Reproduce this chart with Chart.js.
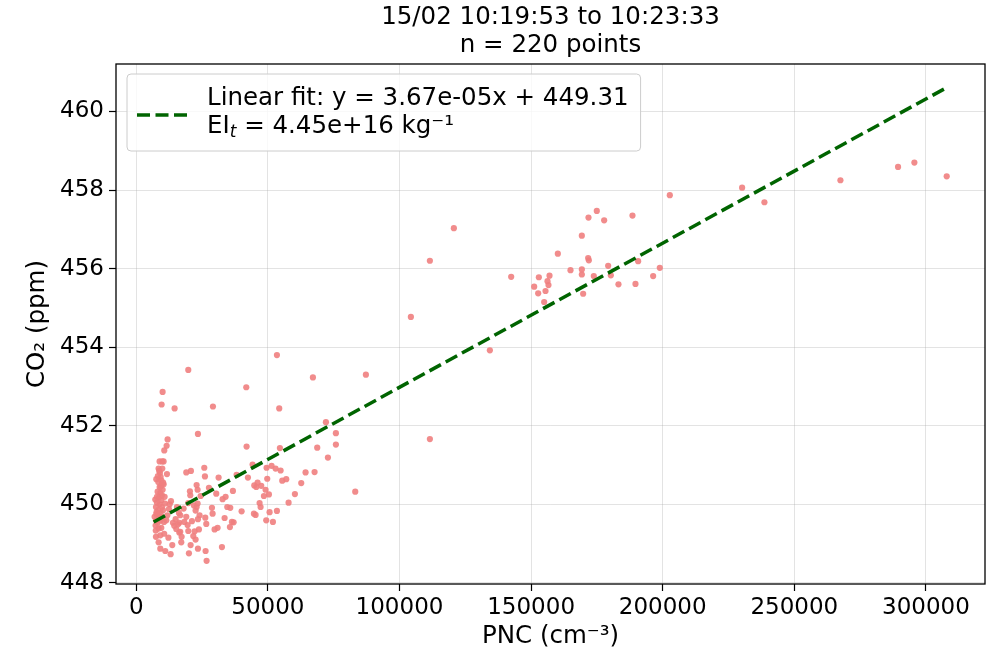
<!DOCTYPE html>
<html>
<head>
<meta charset="utf-8">
<script src="https://cdn.jsdelivr.net/npm/chart.js@4.4.1/dist/chart.umd.min.js"></script>
<style>
    html, body { margin: 0; padding: 0; background: #fff; }
    #wrap { width: 1000px; height: 651px; }
</style>
</head>
<body>
<div id="wrap"><canvas id="chartCo2" width="1000" height="651"></canvas></div>
<script>
// PNC (cm-3) vs CO2 (ppm)

// isolated points above the main cloud
const topPnc = [53430, 19750, 10000, 9620, 14560, 29120, 41780, 54310, 67100, 87230,
    23420, 41900, 54560, 72040, 75830, 75830, 68740, 72800, 83180];
const topCo2 = [453.80, 453.42, 452.86, 452.54, 452.44, 452.49, 452.98, 452.44, 453.23, 453.30,
    451.79, 451.47, 451.43, 452.09, 451.81, 451.52, 451.44, 451.19, 450.32];

// dense column near the background level
const columnPnc = [11900, 11520, 10630, 9870, 8860, 10380, 8480, 9870, 11650, 7600,
    9500, 9620, 8860, 10000, 9120, 9750, 8610, 9500, 7850, 8860,
    7470, 9750, 8360, 9240, 7600, 8610, 7470, 8100, 7340, 9120,
    10510, 11390, 7470, 9120, 8480, 9120, 11010, 13040, 13670, 8100,
    10380, 8360, 8990, 7220, 10130, 6960, 8480, 9750, 7850, 10760,
    9240, 9300, 8200, 10900, 7700, 9500, 8900, 11800, 10200, 12400,
    7400, 8700, 10600, 12200];
const columnCo2 = [451.65, 451.49, 451.37, 451.09, 451.09, 451.09, 450.91, 450.91, 450.77, 450.64,
    450.61, 450.50, 450.44, 450.37, 450.29, 450.23, 450.17, 450.10, 450.04, 450.00,
    449.93, 449.93, 449.85, 449.79, 449.75, 449.70, 449.59, 449.53, 449.46, 449.58,
    449.55, 449.59, 449.17, 449.21, 449.03, 448.87, 448.81, 448.73, 448.96, 450.32,
    450.51, 450.57, 450.80, 450.12, 449.85, 449.68, 449.38, 449.68, 450.19, 450.19,
    450.70, 450.45, 450.72, 450.02, 449.80, 449.40, 449.65, 449.72, 450.55, 449.88,
    449.33, 450.85, 449.25, 449.15];

// lower cloud, 13k - 68k
const cloudPnc = [13170, 12660, 16200, 14940, 13930, 16330, 14430, 15830, 15190, 16330,
    16710, 17220, 17090, 18230, 19750, 21140, 22160, 21650, 22530, 23800,
    23420, 24050, 20640, 20000, 23420, 26330, 26710, 26210, 26590, 29750,
    30890, 32540, 19750, 21900, 22530, 23290, 22920, 20380, 20510, 24430,
    22920, 23290, 20760, 18990, 25830, 26080, 27600, 28740, 28990, 30380,
    31270, 32790, 33930, 33550, 34560, 35700, 36330, 36970, 35570, 36710,
    38110, 42410, 40010, 44180, 44820, 45580, 46080, 47480, 46840, 47220,
    44690, 45320, 48490, 49120, 49750, 49500, 51400, 52920, 54820, 50390,
    50640, 49370, 51910, 53430, 55450, 56970, 57860, 60260, 62670, 64310,
    67730, 15450, 17980, 16710, 18990, 19500];
const cloudCo2 = [450.08, 450.00, 449.78, 449.62, 449.53, 449.53, 449.45, 449.49, 449.37, 449.28,
    449.30, 449.17, 449.03, 449.55, 449.32, 449.57, 449.31, 449.19, 449.10, 449.36,
    449.62, 449.72, 448.96, 448.75, 448.87, 448.81, 448.56, 449.66, 449.50, 449.36,
    449.40, 448.91, 450.03, 449.97, 449.84, 450.02, 449.93, 450.33, 450.23, 450.21,
    450.49, 450.37, 450.85, 450.81, 450.93, 450.71, 450.42, 449.91, 449.76, 450.27,
    450.68, 450.13, 450.19, 449.65, 449.93, 449.91, 449.55, 449.54, 449.42, 450.34,
    450.75, 450.68, 449.82, 451.01, 450.48, 450.44, 450.55, 450.47, 450.03, 449.93,
    449.76, 449.73, 450.21, 450.37, 450.65, 450.93, 450.98, 450.91, 450.86, 450.25,
    449.80, 449.59, 449.55, 449.83, 450.60, 450.64, 450.04, 450.26, 450.54, 450.81,
    450.82, 449.93, 449.89, 449.72, 449.68, 449.47];

// high concentration plume points
const plumePnc = [104320, 111540, 120650, 111540, 134330, 142430, 151160, 152940, 152680, 154960,
    155470, 156230, 156600, 156990, 160150, 164960, 169270, 169270, 169270, 169770,
    171670, 171930, 171800, 173820, 174960, 177750, 179270, 180280, 183190, 188510,
    189650, 190660, 196360, 198890, 202690, 230160, 238640, 267510, 289410, 295610,
    307890];
const plumeCo2 = [454.77, 456.20, 457.03, 451.66, 453.92, 455.79, 455.54, 455.78, 455.37, 455.15,
    455.43, 455.68, 455.58, 455.82, 456.38, 455.96, 455.98, 456.84, 455.85, 455.36,
    456.27, 456.21, 457.30, 455.81, 457.47, 457.23, 456.07, 455.83, 455.60, 457.35,
    455.61, 456.19, 455.81, 456.02, 457.87, 458.06, 457.69, 458.25, 458.59, 458.70,
    458.35];

// dashed fit line end points
const fitPnc = [6600, 307900];
const fitCo2 = [449.55, 460.61];

const xTicks = [0, 50000, 100000, 150000, 200000, 250000, 300000];
const yTicks = [448, 450, 452, 454, 456, 458, 460];

const titleLines = ['15/02 10:19:53 to 10:23:33', 'n = 220 points'];
const fitLabel = 'Linear fit: y = 3.67e-05x + 449.31';
const eiLabel = ' = 4.45e+16 kg\u207B\u00B9';

const FONT = "'DejaVu Sans', 'Liberation Sans', sans-serif";
const BIG = 24.5;   // title, legend, axis labels
const TICK = 23;    // tick labels

function toPoints(xs, ys) {
    return xs.map((x, i) => ({ x: x, y: ys[i] }));
}

const scatterPts = []
    .concat(toPoints(topPnc, topCo2))
    .concat(toPoints(columnPnc, columnCo2))
    .concat(toPoints(cloudPnc, cloudCo2))
    .concat(toPoints(plumePnc, plumeCo2));

// spines + legend box + title drawn on top, matplotlib style
const decoPlugin = {
    id: 'deco',
    afterDraw(chart) {
        const ctx = chart.ctx;
        const a = chart.chartArea;
        ctx.save();

        // frame
        ctx.strokeStyle = '#000';
        ctx.lineWidth = 1.3;
        ctx.strokeRect(a.left, a.top, a.right - a.left, a.bottom - a.top);

        // legend
        ctx.font = BIG + 'px ' + FONT;
        const textX = a.left + 91;
        const w1 = ctx.measureText(fitLabel).width;
        const bx = a.left + 11, by = a.top + 10;
        const bw = textX + w1 + 12 - bx, bh = 77;
        ctx.beginPath();
        ctx.roundRect(bx, by, bw, bh, 4);
        ctx.fillStyle = 'rgba(255,255,255,0.8)';
        ctx.fill();
        ctx.strokeStyle = '#cccccc';
        ctx.lineWidth = 1;
        ctx.stroke();

        ctx.beginPath();
        ctx.setLineDash([13, 5.5]);
        ctx.strokeStyle = '#006400';
        ctx.lineWidth = 3.5;
        ctx.moveTo(bx + 10, by + 41);
        ctx.lineTo(bx + 62, by + 41);
        ctx.stroke();
        ctx.setLineDash([]);

        ctx.fillStyle = '#000';
        ctx.textBaseline = 'middle';
        ctx.textAlign = 'left';
        ctx.fillText(fitLabel, textX, by + 25);
        let tx = textX;
        ctx.fillText('EI', tx, by + 53);
        tx += ctx.measureText('EI').width;
        ctx.font = 'italic 17px ' + FONT;
        ctx.fillText('t', tx, by + 59);
        tx += ctx.measureText('t').width;
        ctx.font = BIG + 'px ' + FONT;
        ctx.fillText(eiLabel, tx, by + 53);

        // title over the axes
        ctx.textAlign = 'center';
        const cx = (a.left + a.right) / 2;
        ctx.fillText(titleLines[0], cx, 18);
        ctx.fillText(titleLines[1], cx, 46);
        ctx.restore();
    }
};

Chart.defaults.font.family = FONT;
Chart.defaults.color = '#000';

const ctx = document.getElementById('chartCo2').getContext('2d');
new Chart(ctx, {
    type: 'scatter',
    data: {
        datasets: [{
            label: 'fit',
            data: toPoints(fitPnc, fitCo2),
            showLine: true,
            borderColor: '#006400',
            borderWidth: 3.5,
            borderDash: [13, 5.5],
            pointRadius: 0,
            order: 1
        }, {
            label: 'samples',
            data: scatterPts,
            backgroundColor: 'rgba(240,128,128,0.9)',
            borderWidth: 0,
            pointRadius: 3.1,
            order: 2
        }]
    },
    options: {
        responsive: false,
        animation: false,
        devicePixelRatio: 1,
        layout: { padding: { top: 64, right: 15, left: 0, bottom: 0 } },
        plugins: {
            legend: { display: false },
            tooltip: { enabled: false }
        },
        scales: {
            x: {
                type: 'linear',
                min: -7710,
                max: 322440,
                afterBuildTicks: s => { s.ticks = xTicks.map(v => ({ value: v })); },
                afterFit: s => { s.height = 67; },
                ticks: {
                    font: { size: TICK },
                    padding: 3,
                    maxRotation: 0,
                    callback: v => String(v)
                },
                grid: {
                    color: 'rgba(176,176,176,0.35)',
                    tickColor: '#000',
                    tickLength: 7,
                    tickWidth: 1.2
                },
                border: { display: false },
                title: {
                    display: true,
                    text: 'PNC (cm\u207B\u00B3)',
                    font: { size: BIG },
                    padding: { top: 0, bottom: 0 }
                }
            },
            y: {
                min: 447.97,
                max: 461.21,
                afterBuildTicks: s => { s.ticks = yTicks.map(v => ({ value: v })); },
                afterFit: s => { s.width = 116; },
                ticks: {
                    font: { size: TICK },
                    padding: 5,
                    callback: v => String(v)
                },
                grid: {
                    color: 'rgba(176,176,176,0.35)',
                    tickColor: '#000',
                    tickLength: 7,
                    tickWidth: 1.2
                },
                border: { display: false },
                title: {
                    display: true,
                    text: 'CO\u2082 (ppm)',
                    font: { size: BIG },
                    padding: { top: 23, bottom: 0 }
                }
            }
        }
    },
    plugins: [decoPlugin]
});
</script>
</body>
</html>
